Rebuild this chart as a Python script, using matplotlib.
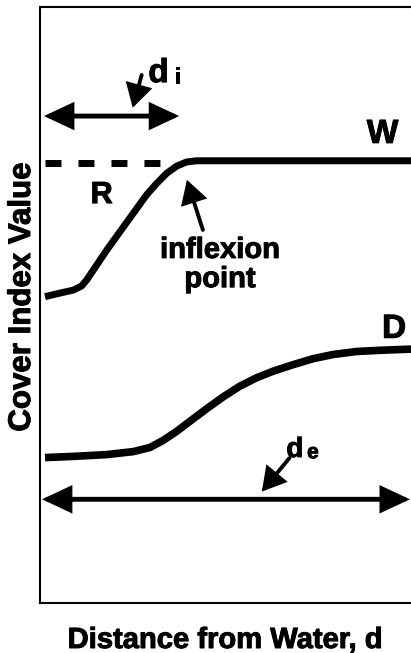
import matplotlib
matplotlib.use("Agg")
import matplotlib.pyplot as plt
import matplotlib.patheffects as pe
from matplotlib.patches import FancyArrowPatch

plt.rcParams['font.family'] = ['Liberation Sans', 'DejaVu Sans']
plt.rcParams['font.weight'] = 'bold'

# wet-type curve (W)
w_x = [1.35, 5.39, 8.98, 11.24, 12.59, 15.28, 17.98, 21.56, 25.15, 28.75, 31.45, 34.15,
       36.84, 39.53, 42.23, 48.5, 100]
w_y = [51.4, 52.0, 52.5, 53.2, 54.2, 56.7, 59.2, 62.3, 65.4, 68.5, 70.4, 72.1,
       73.3, 74.0, 74.2, 74.2, 74.2]

# dry-type curve (D)
d_x = [1.35, 8.98, 17.98, 25.15, 29.65, 33.23, 36.84, 40.43, 44.93, 49.41, 53.91, 58.41,
       62.88, 68.28, 73.67, 79.06, 85.36, 91.64, 100]
d_y = [24.4, 24.6, 24.9, 25.4, 26.1, 27.3, 28.8, 30.5, 32.6, 34.6, 36.4, 37.8,
       38.9, 40.0, 41.0, 41.7, 42.2, 42.4, 42.6]

# plateau reference R (dashed)
r_x = [1.35, 32.9]
r_y = [73.9, 73.9]

# extent arrows
di_x = [1.08, 37.5]
di_y = 81.7
de_x = [0.54, 99.7]
de_y = 17.4

heavy = [pe.withStroke(linewidth=0.7, foreground='black')]

fig = plt.figure(figsize=(4.11, 6.53), dpi=100)
ax = fig.add_axes([40 / 411, 50 / 653, 371 / 411, 596 / 653])
ax.set_xlim(0, 100)
ax.set_ylim(0, 100)
ax.set_xticks([])
ax.set_yticks([])
ax.spines['right'].set_visible(False)
for s in ['left', 'bottom', 'top']:
    ax.spines[s].set_linewidth(1.5)

ax.plot(w_x, w_y, color='black', lw=5, solid_capstyle='butt', solid_joinstyle='round')
ax.plot(d_x, d_y, color='black', lw=5.5, solid_capstyle='butt', solid_joinstyle='round')
ax.plot(r_x, r_y, color='black', lw=5, linestyle=(0, (2.3, 2.45)), dash_capstyle='butt')


def double_arrow(x0, x1, y):
    a = FancyArrowPatch((x0, y), (x1, y), arrowstyle='<|-|>,head_length=16,head_width=7.5',
                        mutation_scale=1, lw=3.5, color='black', shrinkA=0, shrinkB=0,
                        joinstyle='miter', clip_on=False)
    ax.add_patch(a)


def pointer(tail, tip):
    a = FancyArrowPatch(tail, tip, arrowstyle='-|>,head_length=13,head_width=7.5',
                        mutation_scale=1, lw=2.8, color='black', shrinkA=0, shrinkB=0,
                        joinstyle='miter')
    ax.add_patch(a)


double_arrow(di_x[0], di_x[1], di_y)
double_arrow(de_x[0], de_x[1], de_y)

pointer((27.4, 88.6), (25.0, 83.1))
pointer((67.2, 24.3), (59.8, 18.7))
pointer((43.9, 62.6), (39.6, 71.0))

ax.text(29.2, 87.4, 'd', fontsize=24, ha='left', va='baseline', path_effects=heavy)
ax.text(36.3, 87.2, 'i', fontsize=16, ha='left', va='baseline', path_effects=heavy)
ax.text(66.4, 24.5, 'd', fontsize=20, ha='left', va='baseline', path_effects=heavy)
ax.text(72.0, 24.3, 'e', fontsize=15, ha='left', va='baseline', path_effects=heavy)

ax.text(48.5, 57.9, 'inflexion', fontsize=21, ha='center', va='baseline', path_effects=heavy)
ax.text(48.5, 53.0, 'point', fontsize=21, ha='center', va='baseline', path_effects=heavy)
ax.text(16.6, 67.1, 'R', fontsize=22, ha='center', va='baseline', path_effects=heavy)
ax.text(88.1, 77.2, 'W', fontsize=24, ha='left', va='baseline', path_effects=heavy)
ax.text(92.2, 44.5, 'D', fontsize=24, ha='left', va='baseline', path_effects=heavy)

fig.text(225 / 411, 5 / 653, 'Distance from Water, d', fontsize=21,
         ha='center', va='baseline', path_effects=heavy)
fig.text(22 / 411, (653 - 297) / 653, 'Cover Index Value', fontsize=22.5,
         ha='center', va='center', rotation=90, path_effects=heavy)

fig.savefig('out.png', dpi=100)
